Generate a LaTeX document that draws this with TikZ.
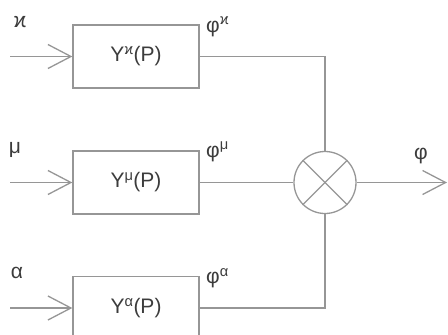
\documentclass[tikz,border=0pt]{standalone}
\usepackage{fontspec}
\setmainfont{Liberation Sans}
\usetikzlibrary{arrows.meta}
\definecolor{linegray}{RGB}{150,150,150}
\definecolor{textgray}{RGB}{60,60,60}
\begin{document}
\begin{tikzpicture}[x=1pt,y=-1pt,
  every node/.style={font=\fontsize{21}{23}\selectfont, text=textgray},
  blockbox/.style={draw=linegray, line width=1.3pt, minimum width=126pt, minimum height=63pt, inner sep=0pt},
  mixer/.style={draw=linegray, line width=1.3pt, circle, minimum size=62pt, inner sep=0pt},
  wire/.style={draw=linegray, line width=1.3pt},
  inarrow/.style={wire, -{Straight Barb[length=23pt,width=24pt,line width=1.3pt]}},
  lbl/.style={inner sep=0pt, anchor=center}]
\useasboundingbox (0,0) rectangle (448,335);
\node[blockbox] (b1) at (136,56.5) {Y\textsuperscript{ϰ}(P)};
\node[blockbox] (b2) at (136,182.5) {Y\textsuperscript{μ}(P)};
\node[blockbox] (b3) at (136,308) {Y\textsuperscript{α}(P)};
\node[mixer] (m) at (325,182.5) {};
\draw[wire] (m.north west) -- (m.south east);
\draw[wire] (m.north east) -- (m.south west);
\coordinate (i1) at (10,56.5);
\coordinate (i2) at (10,182.5);
\coordinate (i3) at (10,308);
\coordinate (o) at (447,182.5);
\draw[inarrow] (i1) -- (b1.west);
\draw[inarrow] (i2) -- (b2.west);
\draw[inarrow] (i3) -- (b3.west);
\draw[wire] (b1.east) -| (m.north);
\draw[wire] (b2.east) -- (m.west);
\draw[wire] (b3.east) -| (m.south);
\draw[inarrow] (m.east) -- (o);
\node[lbl] (l1) at (20,22) {ϰ};
\node[lbl] (l2) at (15,150) {μ};
\node[lbl] (l3) at (17,273) {α};
\node[lbl, anchor=west] (p1) at (206,27) {φ\textsuperscript{ϰ}};
\node[lbl, anchor=west] (p2) at (206,152) {φ\textsuperscript{μ}};
\node[lbl, anchor=west] (p3) at (206,278) {φ\textsuperscript{α}};
\node[lbl] (po) at (421,156) {φ};
\end{tikzpicture}
\end{document}
